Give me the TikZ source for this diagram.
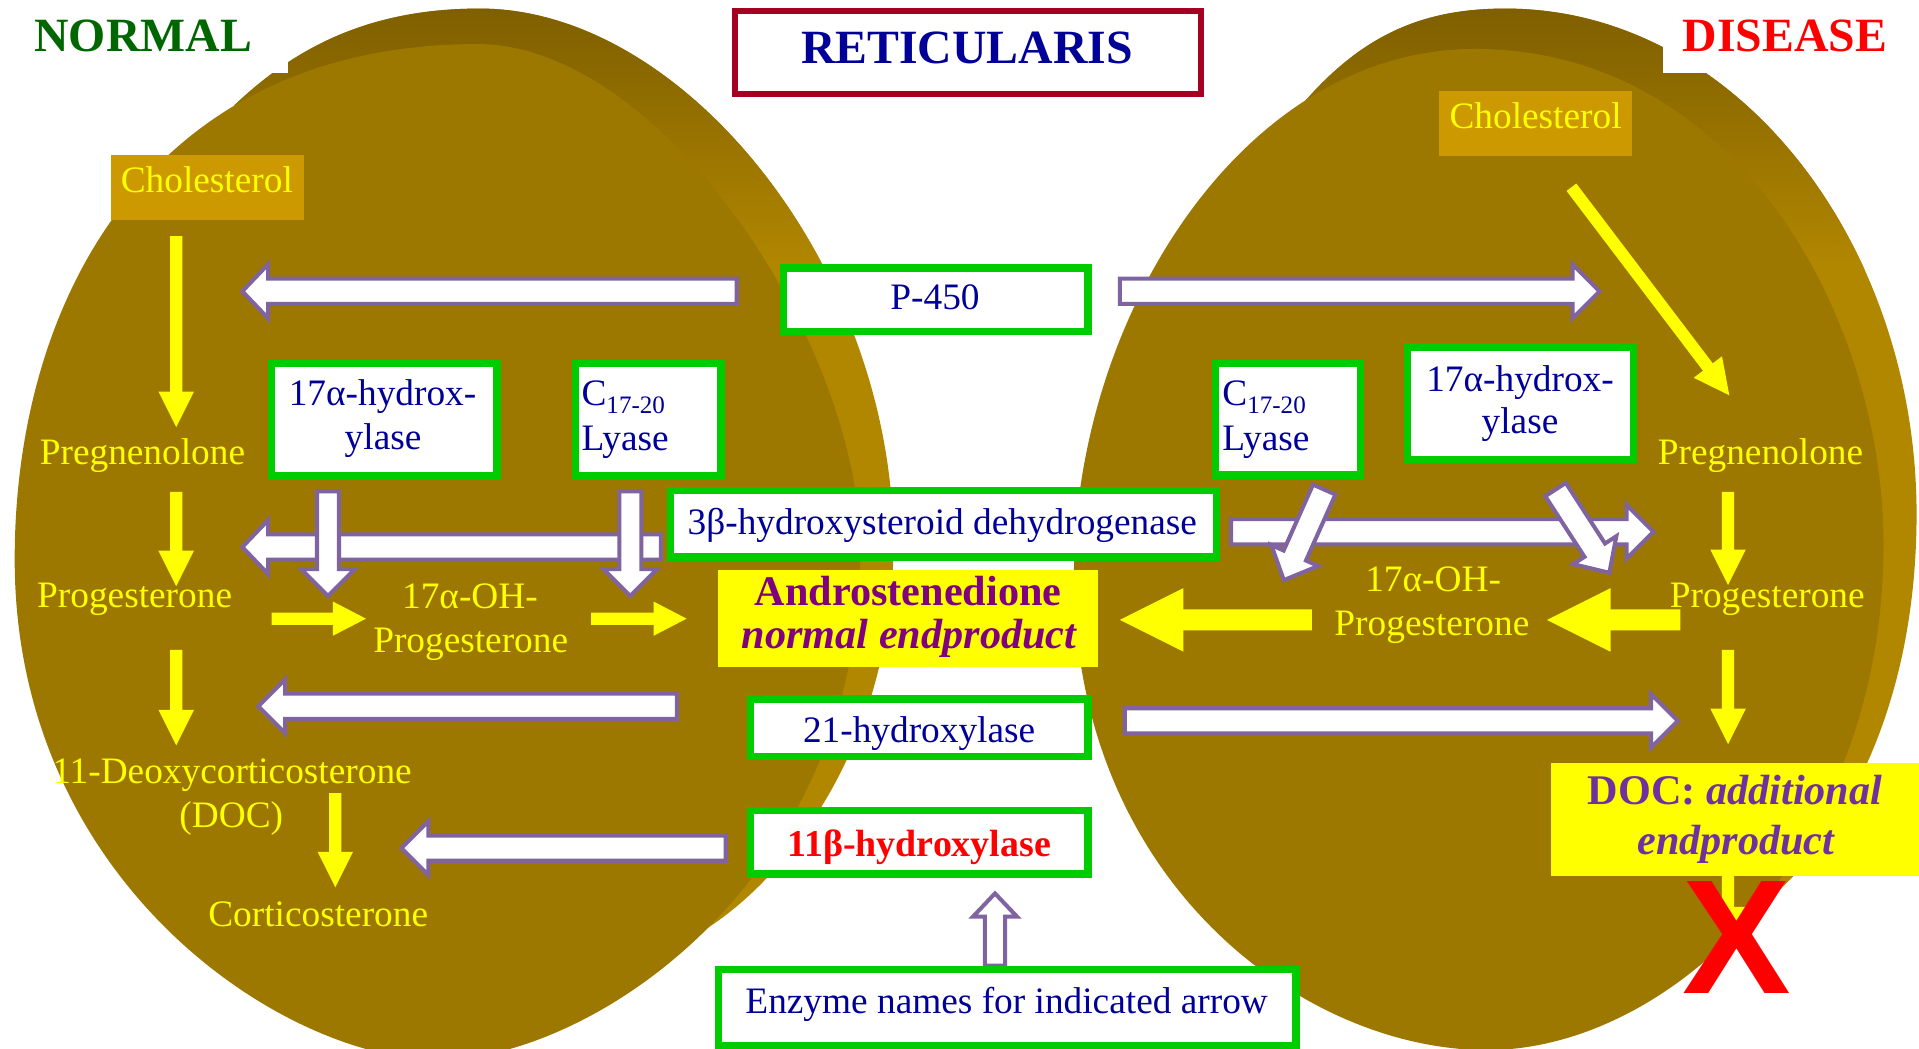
\documentclass[tikz,border=0pt]{standalone}
\usepackage{fontspec}
\setmainfont{Liberation Serif}
\newfontfamily\xsans{Liberation Sans}
\usetikzlibrary{calc}
\definecolor{face}{RGB}{157,120,0}
\definecolor{rim}{RGB}{178,135,0}
\definecolor{rimtop}{RGB}{125,94,0}
\definecolor{arrowpurple}{RGB}{128,100,162}
\definecolor{arrowyellow}{RGB}{255,255,0}
\definecolor{boxgreen}{RGB}{0,204,0}
\definecolor{navy}{RGB}{0,0,153}
\definecolor{cholbox}{RGB}{204,153,0}
\definecolor{titlered}{RGB}{165,0,33}
\definecolor{andropurple}{RGB}{128,0,128}
\definecolor{docpurple}{RGB}{112,48,160}
\definecolor{normalgreen}{RGB}{0,102,0}
\definecolor{xred}{RGB}{255,0,0}
\newcommand\fN{\fontsize{30.5}{36}\selectfont}
\newcommand\fT{\fontsize{39}{44}\selectfont\bfseries}
\newcommand\fE{\fontsize{34.5}{40}\selectfont\bfseries}
\newcommand\fS{\fontsize{20.5}{24}\selectfont}
% #1 style, #2 tail, #3 tip, #4 shaft half width, #5 head half width, #6 head length
\newcommand{\blockarrow}[6]{%
  \coordinate (bah) at ($(#3)!#6pt!(#2)$);
  \path[#1] ($(#2)!#4pt!90:(#3)$) -- ($(bah)!#4pt!90:(#3)$) -- ($(bah)!#5pt!90:(#3)$) -- (#3)
    -- ($(bah)!#5pt!-90:(#3)$) -- ($(bah)!#4pt!-90:(#3)$) -- ($(#2)!#4pt!-90:(#3)$) -- cycle;}
\begin{document}
\begin{tikzpicture}[x=1pt,y=-1pt,
  barr/.style={fill=white,draw=arrowpurple,line width=3.3pt,line join=miter},
  yarr/.style={fill=arrowyellow},
  gbox/.style={draw=boxgreen,line width=6pt,fill=white,inner sep=0pt},
  fbox/.style={inner sep=0pt},
  txt/.style={inner sep=0pt,anchor=base,font=\fN},
  ytxt/.style={txt,text=arrowyellow},
  ntxt/.style={txt,text=navy},
]
\useasboundingbox (0,0) rectangle (1568,857);
\clip (0,0) rectangle (1568,857);
\fill[white] (0,0) rectangle (1568,857);

% ---- left disc: rim, then face
\begin{scope}
  \clip (191.5,86) .. controls (240,40) and (300,7) .. (392,7)
        .. controls (560,7) and (730,220) .. (730,445)
        .. controls (730,600) and (650,712) .. (577,759) -- (400,500) -- cycle;
  \fill[rim] (0,0) rectangle (760,900);
  \shade[top color=rimtop,bottom color=rim] (0,0) rectangle (760,220);
\end{scope}
\fill[face] (12,457) .. controls (12,242) and (125,36) .. (390,36)
      .. controls (540,36) and (703,280) .. (703,450)
      .. controls (703,720) and (483,866) .. (358,866)
      .. controls (233,866) and (12,722) .. (12,457) -- cycle;

% ---- right disc: rim, then face
\begin{scope}
  \clip (1060,90) .. controls (1110,30) and (1160,7) .. (1230,7)
        .. controls (1420,7) and (1566,200) .. (1566,420)
        .. controls (1566,585) and (1500,695) .. (1433,745) -- (1200,450) -- cycle;
  \fill[rim] (850,0) rectangle (1600,900);
  \shade[top color=rimtop,bottom color=rim] (850,0) rectangle (1600,220);
\end{scope}
\fill[face] (877.5,470) .. controls (877.5,260) and (1015,40) .. (1205,40)
      .. controls (1420,40) and (1539,260) .. (1539,445)
      .. controls (1539,695) and (1365,858) .. (1215,858)
      .. controls (1065,858) and (877.5,720) .. (877.5,470) -- cycle;

% ---- label backgrounds
\fill[white] (0,0) rectangle (235,60);
\fill[white] (1359,0) rectangle (1568,60);
\node[txt,font=\fT,text=normalgreen] (normal) at (117,42.2) {NORMAL};
\node[txt,font=\fT,text=xred] (disease) at (1458.5,42.2) {DISEASE};

% ---- title
\node[draw=titlered,line width=5pt,fill=white,minimum width=380.5pt,minimum height=67.2pt,inner sep=0pt] (title) at (790.75,42.9) {};
\node[txt,font=\fT,text=navy] (titletext) at (790,51.7) {RETICULARIS};

% ---- coordinates for block arrows
\coordinate (p450Ls) at (602,238);   \coordinate (p450Le) at (198,238);
\coordinate (p450Rs) at (915,238);   \coordinate (p450Re) at (1307,238);
\coordinate (hsdLs) at (540,447);    \coordinate (hsdLe) at (198,447);
\coordinate (hsdRs) at (1006,434.5); \coordinate (hsdRe) at (1351,434.5);
\coordinate (hydLs) at (268,401.5);  \coordinate (hydLe) at (268,487);
\coordinate (lyaLs) at (515,401.5);  \coordinate (lyaLe) at (515,487);
\coordinate (lyaRs) at (1082,400);   \coordinate (lyaRe) at (1049,474);
\coordinate (hydRs) at (1271,400);   \coordinate (hydRe) at (1315,468);
\coordinate (h21Ls) at (553,577);    \coordinate (h21Le) at (211,577);
\coordinate (h21Rs) at (919,589);    \coordinate (h21Re) at (1371,589);
\coordinate (h11Ls) at (593,693);    \coordinate (h11Le) at (328,693);
\coordinate (enzs) at (813,789);     \coordinate (enze) at (813,730);

\blockarrow{barr}{p450Ls}{p450Le}{10.3}{22}{21}
\blockarrow{barr}{p450Rs}{p450Re}{10.3}{22}{22}
\blockarrow{barr}{hsdLs}{hsdLe}{10.3}{22}{21}
\blockarrow{barr}{hydLs}{hydLe}{9}{22}{22}
\blockarrow{barr}{lyaLs}{lyaLe}{9}{22}{22}
\blockarrow{barr}{hsdRs}{hsdRe}{10.3}{22}{22}
\blockarrow{barr}{lyaRs}{lyaRe}{10}{21}{22}
\blockarrow{barr}{hydRs}{hydRe}{10}{21}{22}
\blockarrow{barr}{h21Ls}{h21Le}{10.3}{22}{22}
\blockarrow{barr}{h21Rs}{h21Re}{10.3}{22}{22}
\blockarrow{barr}{h11Ls}{h11Le}{10.3}{22}{22}
\blockarrow{barr}{enzs}{enze}{8.3}{18}{19}

% ---- yellow arrows
\coordinate (ya1s) at (144,193);  \coordinate (ya1e) at (144,349);
\coordinate (ya2s) at (144,402);  \coordinate (ya2e) at (144,479);
\coordinate (ya3s) at (144,531);  \coordinate (ya3e) at (144,609);
\coordinate (ya4s) at (274,648);  \coordinate (ya4e) at (274,725);
\coordinate (yb1s) at (1412,402); \coordinate (yb1e) at (1412,478);
\coordinate (yb2s) at (1412,531); \coordinate (yb2e) at (1412,608);
\coordinate (yb3s) at (1412,712); \coordinate (yb3e) at (1412,770);
\coordinate (ydgs) at (1284,153); \coordinate (ydge) at (1413,323);
\coordinate (yh1s) at (222,505.5); \coordinate (yh1e) at (299,505.5);
\coordinate (yh2s) at (483,505.5); \coordinate (yh2e) at (561,505.5);
\coordinate (yg1s) at (1072,506.5); \coordinate (yg1e) at (915,506.5);
\coordinate (yg2s) at (1373,506.5); \coordinate (yg2e) at (1264,506.5);
\blockarrow{yarr}{ya1s}{ya1e}{5}{14.5}{29}
\blockarrow{yarr}{ya2s}{ya2e}{5}{14.5}{29}
\blockarrow{yarr}{ya3s}{ya3e}{5}{14.5}{29}
\blockarrow{yarr}{ya4s}{ya4e}{5}{14.5}{29}
\blockarrow{yarr}{yb1s}{yb1e}{5}{14.5}{29}
\blockarrow{yarr}{yb2s}{yb2e}{5}{14.5}{29}
\blockarrow{yarr}{yb3s}{yb3e}{5}{14.5}{29}
\blockarrow{yarr}{ydgs}{ydge}{5}{14.5}{29}
\blockarrow{yarr}{yh1s}{yh1e}{5}{14}{27}
\blockarrow{yarr}{yh2s}{yh2e}{5}{14}{27}
\blockarrow{yarr}{yg1s}{yg1e}{8.5}{26}{52}
\blockarrow{yarr}{yg2s}{yg2e}{8.5}{26}{52}

% ---- enzyme boxes
\node[gbox,minimum width=249pt,minimum height=52pt] (p450) at (764.5,245) {};
\node[gbox,minimum width=184pt,minimum height=92pt] (hydL) at (314,343) {};
\node[gbox,minimum width=119pt,minimum height=92pt] (lyaL) at (529.5,343) {};
\node[gbox,minimum width=446pt,minimum height=54pt] (hsd) at (771,428) {};
\node[gbox,minimum width=118.5pt,minimum height=91pt] (lyaR) at (1052.25,342.5) {};
\node[gbox,minimum width=184.5pt,minimum height=92pt] (hydR) at (1242.25,329.6) {};
\node[gbox,minimum width=276pt,minimum height=47pt] (h21) at (751,594.5) {};
\node[gbox,minimum width=276pt,minimum height=52pt] (h11) at (751,688) {};
\node[gbox,minimum width=472pt,minimum height=62pt] (enz) at (823,823) {};

% ---- filled boxes
\node[fbox,fill=cholbox,minimum width=158.1pt,minimum height=53.2pt] (cholL) at (169.55,153.2) {};
\node[fbox,fill=cholbox,minimum width=157.7pt,minimum height=52.8pt] (cholR) at (1254.85,100.8) {};
\node[fbox,fill=arrowyellow,minimum width=310pt,minimum height=79pt] (andro) at (742,505.5) {};

% red X behind the DOC box
\node[txt,font={\xsans\bfseries\fontsize{133}{133}\selectfont},text=xred] (xmark) at (1419.5,811.6) {X};
\node[fbox,fill=arrowyellow,minimum width=303pt,minimum height=92.2pt] (doc) at (1418.5,669.7) {};

% ---- texts, left disc
\node[ytxt] (cholLt) at (169,157.5) {Cholesterol};
\node[ytxt] (pregL) at (116.4,379.5) {Pregnenolone};
\node[ytxt] (progL) at (110,496.5) {Progesterone};
\node[ytxt] (ohL1) at (384,497) {17α-OH-};
\node[ytxt] (ohL2) at (384.6,533) {Progesterone};
\node[ytxt] (docL1) at (189.6,640.5) {11-Deoxycorticosterone};
\node[ytxt] (docL2) at (189,676) {(DOC)};
\node[ytxt] (cort) at (260,757) {Corticosterone};

% ---- texts, enzymes
\node[ntxt] (p450t) at (764,253) {P-450};
\node[ntxt] (hydL1) at (312.6,331) {17α-hydrox-};
\node[ntxt] (hydL2) at (313,367) {ylase};
\node[ntxt,anchor=base west] (lyaL1) at (475,331) {C\raisebox{-6.5pt}{\fS 17-20}};
\node[ntxt,anchor=base west] (lyaL2) at (475,367.7) {Lyase};
\node[ntxt] (hsdt) at (770,437) {3β-hydroxysteroid dehydrogenase};
\node[ntxt] (h21t) at (751,607) {21-hydroxylase};
\node[txt,font={\fontsize{31}{36}\selectfont\bfseries},text=xred] (h11t) at (751,700) {11β-hydroxylase};
\node[ntxt] (enzt) at (822.5,828.5) {Enzyme names for indicated arrow};
\node[ntxt,anchor=base west] (lyaR1) at (998.6,331) {C\raisebox{-6.5pt}{\fS 17-20}};
\node[ntxt,anchor=base west] (lyaR2) at (998.6,367.7) {Lyase};
\node[ntxt] (hydR1) at (1242,319.5) {17α-hydrox-};
\node[ntxt] (hydR2) at (1242,354) {ylase};

% ---- end products
\node[txt,font=\fE,text=andropurple] (andro1) at (742,495) {Androstenedione};
\node[txt,font=\fE,text=andropurple] (andro2) at (742.8,529.5) {\itshape normal endproduct};
\node[txt,font=\fE,text=docpurple] (doc1) at (1417.6,657.5) {DOC: \itshape additional};
\node[txt,font=\fE,text=docpurple] (doc2) at (1418.3,698) {\itshape endproduct};

% ---- texts, right disc
\node[ytxt] (cholRt) at (1254.7,105) {Cholesterol};
\node[ytxt] (pregR) at (1438.5,379.5) {Pregnenolone};
\node[ytxt] (progR) at (1444,496.5) {Progesterone};
\node[ytxt] (ohR1) at (1171,483.5) {17α-OH-};
\node[ytxt] (ohR2) at (1170,519.5) {Progesterone};
\end{tikzpicture}
\end{document}
